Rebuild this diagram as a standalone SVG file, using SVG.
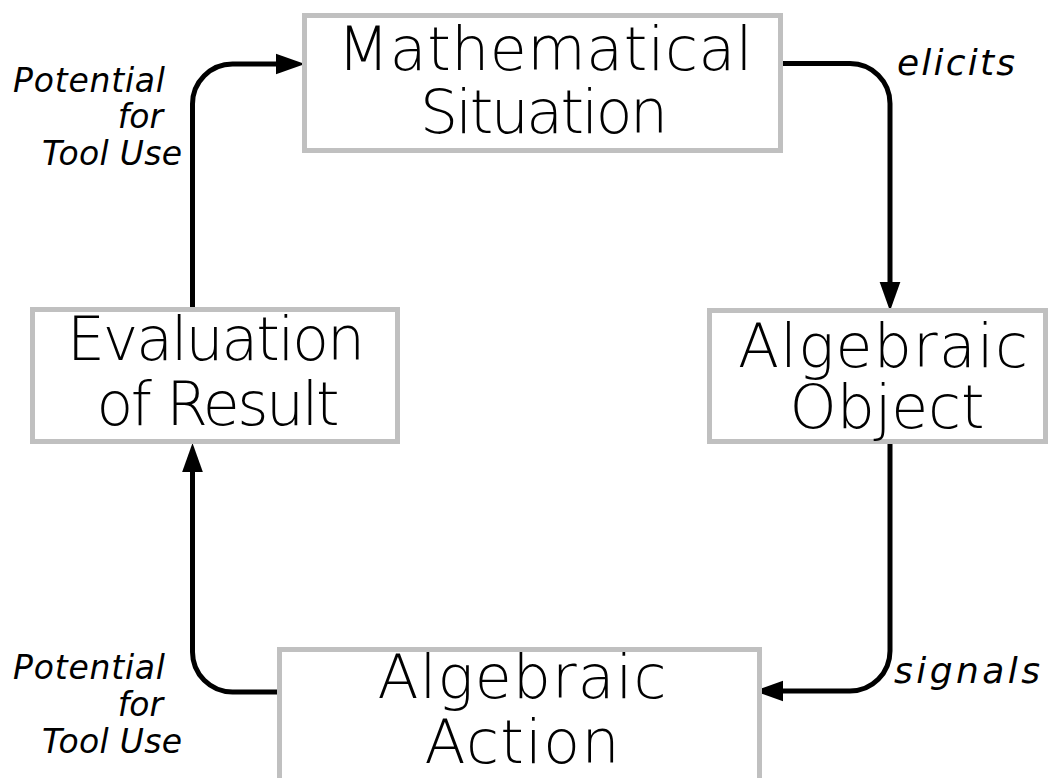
<svg xmlns="http://www.w3.org/2000/svg" width="1048" height="778" viewBox="0 0 1048 778">
<style>
.box{fill:#ffffff;stroke:#c0c0c0;stroke-width:5}
.big{font-family:"DejaVu Sans","Liberation Sans",sans-serif;font-size:60px;font-weight:200;fill:#000;text-anchor:middle}
.lbl{font-family:"DejaVu Sans","Liberation Sans",sans-serif;font-size:33px;font-style:italic;fill:#000}
.lbl2{font-family:"DejaVu Sans","Liberation Sans",sans-serif;font-size:36px;font-style:italic;fill:#000}
.end{text-anchor:end}
.conn{fill:none;stroke:#000;stroke-width:5}
</style>
<defs>
<marker id="arr" markerUnits="userSpaceOnUse" markerWidth="30" markerHeight="24" viewBox="0 -11 29 22" refX="0" refY="0" orient="auto">
<path d="M0,-10 L28,0 L0,10 z" fill="#000"/>
</marker>
</defs>
<rect width="1048" height="778" fill="#ffffff"/>
<g id="connectors">
<path class="conn" d="M192.5,307 V104 A40,40 0 0 1 232.5,64 H276" marker-end="url(#arr)"/>
<path class="conn" d="M783,63.5 H850 A40,40 0 0 1 890,103.5 V282" marker-end="url(#arr)"/>
<path class="conn" d="M890,443 V651 A40,40 0 0 1 850,691 H783" marker-end="url(#arr)"/>
<path class="conn" d="M277,692 H232.5 A40,40 0 0 1 192.5,652 V472" marker-end="url(#arr)"/>
</g>
<g id="math-situation">
<rect class="box" x="304.5" y="15.5" width="476" height="135"/>
<text class="big" x="545" y="70" textLength="415">Mathematical</text>
<text class="big" x="544" y="133" textLength="248">Situation</text>
</g>
<g id="algebraic-object">
<rect class="box" x="709.5" y="310.5" width="336" height="131"/>
<text class="big" x="883" y="367" textLength="290">Algebraic</text>
<text class="big" x="887" y="428" textLength="195">Object</text>
</g>
<g id="evaluation-result">
<rect class="box" x="32.5" y="309.5" width="365" height="132"/>
<text class="big" x="216" y="360" textLength="298">Evaluation</text>
<text class="big" x="218" y="425" textLength="243">of Result</text>
</g>
<g id="algebraic-action">
<rect class="box" x="279.5" y="649.5" width="480" height="140"/>
<text class="big" x="522" y="698" textLength="289">Algebraic</text>
<text class="big" x="522" y="763" textLength="195">Action</text>
</g>
<g id="labels">
<text class="lbl end" x="165" y="92" textLength="152">Potential</text>
<text class="lbl end" x="163" y="128">for</text>
<text class="lbl end" x="182" y="165" textLength="140">Tool Use</text>
<text class="lbl end" x="165" y="679" textLength="152">Potential</text>
<text class="lbl end" x="163" y="716">for</text>
<text class="lbl end" x="182" y="753" textLength="140">Tool Use</text>
<text class="lbl2" x="897" y="75" textLength="118">elicits</text>
<text class="lbl2" x="894" y="683" textLength="146">signals</text>
</g>
</svg>
